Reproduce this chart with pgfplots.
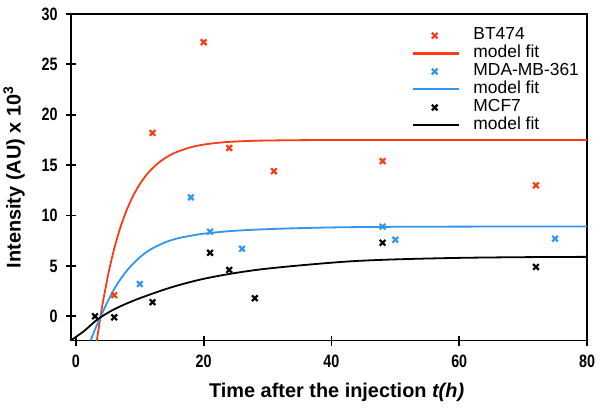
\documentclass[border=0pt]{standalone}
\usepackage{fontspec}
\setmainfont{Liberation Sans}
\newfontfamily\narrowfont{Liberation Sans}[FakeStretch=0.8]
\usepackage{pgfplots}
\pgfplotsset{compat=1.18}
\definecolor{fitred}{RGB}{250,60,20}
\definecolor{fitblue}{RGB}{50,150,240}

\pgfplotsset{
  markleg/.style={legend image code/.code={
    \draw[mark size=4bp] plot[only marks] coordinates {(0.75cm,0cm)};
    \path (1.6cm,0cm) (2.08cm,0cm);}},
  lineleg/.style={legend image code/.code={
    \draw[line width=2.4bp] (0cm,0.3bp) -- (1.6cm,0.3bp);
    \path (2.08cm,0cm);}},
}

\begin{document}
\begin{tikzpicture}
\begin{axis}[
  scale only axis, width=517bp, height=327bp,
  xmin=-0.8, xmax=80, ymin=-2.4, ymax=30,
  xtick={0,20,...,80}, ytick={0,5,...,30},
  xtick pos=bottom, ytick pos=left,
  tick align=center, major tick length=10bp,
  line width=1.8bp,
  axis line style={line width=1.8bp}, tick style={line width=1.8bp,black},
  /pgf/number format/assume math mode=true,
  ticklabel style={font=\narrowfont\bfseries\fontsize{18}{20}\selectfont},
  xticklabel style={yshift=-5bp},
  yticklabel style={xshift=-4bp},
  xlabel={Time after the injection \textit{t(h)}},
  ylabel={Intensity (AU) x 10$^{\mathbf{3}}$},
  label style={font=\bfseries\fontsize{20}{22}\selectfont},
  xlabel style={at={(axis description cs:0.515,-0.159)}, anchor=center},
  ylabel style={at={(axis description cs:-0.11,0.5)}, anchor=center},
  legend style={draw=none, fill=none, at={(0.654,0.967)}, anchor=north west,
    font=\fontsize{17.5}{18}\selectfont, row sep=2bp,
    nodes={inner sep=0pt, text height=12bp, text depth=4bp}},
  legend cell align=left,
  every axis plot/.append style={line width=1.8bp},
]
\addplot[fitred, only marks, mark=x, mark size=4bp, line width=2.2bp, markleg] coordinates
  {(6,2.1) (12,18.2) (20,27.2) (24,16.7) (31,14.4) (48,15.4) (72,13.0)};
\addlegendentry{BT474}
\addplot[fitred, smooth, lineleg] coordinates
  {(3.25,-2.53) (4,0.58) (4.5,2.33) (5,3.99) (5.5,5.42) (6,6.71) (6.5,7.86) (7,8.89)
   (7.5,9.8) (8,10.62) (9,12.01) (10,13.11) (11,14.0) (12,14.7) (13,15.26)
   (14,15.72) (15,16.08) (16,16.36) (18,16.78) (20,17.04) (22,17.2) (24,17.31)
   (28,17.42) (35,17.48) (45,17.5) (60,17.5) (80,17.5)};
\addlegendentry{model fit}
\addplot[fitblue, only marks, mark=x, mark size=4bp, line width=2.2bp, markleg] coordinates
  {(10,3.2) (18,11.8) (21,8.4) (26,6.7) (48,8.9) (50,7.6) (75,7.7)};
\addlegendentry{MDA-MB-361}
\addplot[fitblue, smooth, lineleg] coordinates
  {(2.3,-2.4) (3.1,-1.15) (3.9,0) (5,1.5) (6,2.7) (7,3.7) (8,4.55) (9,5.25)
   (10,5.85) (11,6.35) (12,6.75) (14,7.35) (16,7.75) (18,8.0) (20,8.2) (24,8.45)
   (28.8,8.62) (35,8.75) (42,8.84) (50,8.88) (60,8.9) (80,8.92)};
\addlegendentry{model fit}
\addplot[black, only marks, mark=x, mark size=4bp, line width=2.2bp, markleg] coordinates
  {(3,0.0) (6,-0.1) (12,1.4) (21,6.3) (24,4.6) (28,1.8) (48,7.3) (72,4.9)};
\addlegendentry{MCF7}
\addplot[black, smooth, lineleg] coordinates
  {(-0.8,-2.4) (1.3,-1.45) (3.4,-0.3) (6,0.7) (9.6,1.7) (14.8,2.85) (19.5,3.65)
   (24,4.2) (28.8,4.65) (35,5.05) (42.8,5.45) (50,5.65) (60,5.8) (70,5.87) (80,5.9)};
\addlegendentry{model fit}
\end{axis}
\path[use as bounding box] ([shift={(-70bp,-72bp)}]current axis.south west)
  rectangle ([shift={(16bp,14bp)}]current axis.north east);
\end{tikzpicture}
\end{document}
